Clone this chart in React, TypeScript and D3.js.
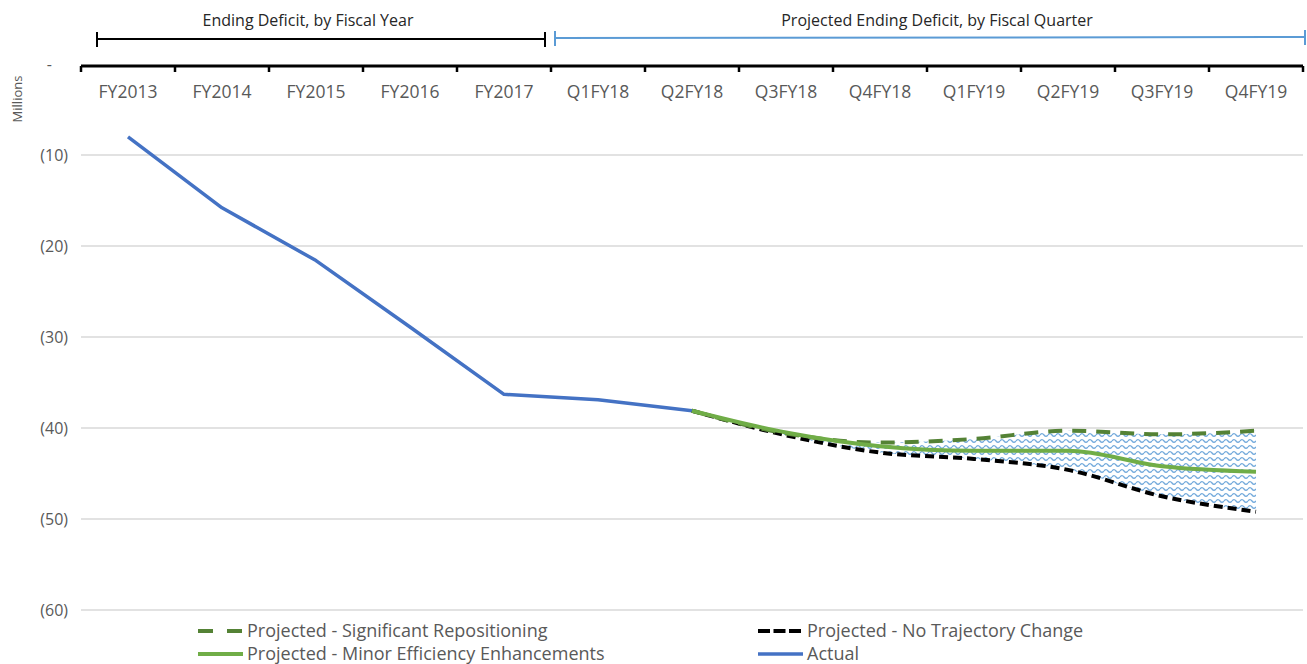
import React from "react";
import * as d3 from "d3";

const categories = ["FY2013","FY2014","FY2015","FY2016","FY2017","Q1FY18","Q2FY18","Q3FY18","Q4FY18","Q1FY19","Q2FY19","Q3FY19","Q4FY19"];
const actual: (number | null)[] = [-8.0, -15.8, -21.6, -28.9, -36.3, -36.9, -38.1, null, null, null, null, null, null];
const significant: (number | null)[] = [null, null, null, null, null, null, -38.1, -40.6, -41.6, -41.2, -40.3, -40.7, -40.3];
const noTrajectory: (number | null)[] = [null, null, null, null, null, null, -38.1, -40.8, -42.7, -43.4, -44.6, -47.5, -49.2];
const minorEff: (number | null)[] = [null, null, null, null, null, null, -38.1, -40.5, -42.0, -42.5, -42.5, -44.2, -44.8];
const yTicks = [0, -10, -20, -30, -40, -50, -60];
const yTickLabels = ["-", "(10)", "(20)", "(30)", "(40)", "(50)", "(60)"];
const legendItems = [
  { label: "Projected - Significant Repositioning", key: "sig" },
  { label: "Projected - No Trajectory Change", key: "no" },
  { label: "Projected - Minor Efficiency Enhancements", key: "minor" },
  { label: "Actual", key: "actual" },
];

const W = 1307, H = 664;
const FONT = "'Open Sans', sans-serif";
const TXT = "#595959";

export default function App() {
  const x = d3.scaleBand<string>().domain(categories).range([81, 1303]).paddingInner(0).paddingOuter(0);
  const y = d3.scaleLinear().domain([0, -60]).range([64, 610]);
  const cx = (i: number) => (x(categories[i]) as number) + x.bandwidth() / 2;

  const mk = (vals: (number | null)[], curve: d3.CurveFactory) =>
    d3.line<number | null>()
      .defined((d) => d !== null)
      .x((_, i) => cx(i))
      .y((d) => y(d as number))
      .curve(curve)(vals) as string;

  const idx = categories.map((_, i) => i).filter((i) => significant[i] !== null && noTrajectory[i] !== null);
  const area = d3.area<number>()
    .x((i) => cx(i))
    .y0((i) => y(noTrajectory[i] as number))
    .y1((i) => y(significant[i] as number))
    .curve(d3.curveMonotoneX)(idx) as string;

  const styles: Record<string, any> = {
    sig: { stroke: "#548235", dash: "14 10", width: 4 },
    no: { stroke: "#000000", dash: "9 5", width: 4 },
    minor: { stroke: "#70AD47", dash: undefined, width: 4 },
    actual: { stroke: "#4472C4", dash: undefined, width: 3.5 },
  };

  const bandEdges = categories.map((c) => x(c) as number).concat([1303]);

  return (
    <svg width={W} height={H} style={{ position: "absolute", left: 0, top: 0, background: "#fff" }}>
      <defs>
        <pattern id="wave" patternUnits="userSpaceOnUse" width="8" height="6">
          <path d="M0 3 Q2 0.4 4 3 T8 3" fill="none" stroke="#5B9BD5" strokeWidth="1.3" />
        </pattern>
      </defs>
      <rect x={0} y={0} width={W} height={H} fill="#fff" />

      {/* header brackets */}
      <g fontFamily={FONT} fontSize={16} fill="#262626">
        <text x={308} y={26} textAnchor="middle">Ending Deficit, by Fiscal Year</text>
        <text x={937} y={26} textAnchor="middle">Projected Ending Deficit, by Fiscal Quarter</text>
      </g>
      <g stroke="#000" strokeWidth={2}>
        <line x1={97} x2={545} y1={39} y2={39} />
        <line x1={97} x2={97} y1={32} y2={47} />
        <line x1={545} x2={545} y1={32} y2={47} />
      </g>
      <g stroke="#5B9BD5" strokeWidth={2}>
        <line x1={555} x2={1306} y1={38} y2={37} />
        <line x1={555} x2={555} y1={31} y2={46} />
        <line x1={1305} x2={1305} y1={30} y2={45} />
      </g>

      {/* gridlines */}
      {yTicks.filter((t) => t !== 0).map((t) => (
        <line key={t} x1={81} x2={1303} y1={y(t)} y2={y(t)} stroke="#D9D9D9" strokeWidth={1.3} />
      ))}

      {/* y labels */}
      <g fontFamily={FONT} fontSize={16} fill={TXT}>
        {yTicks.map((t, i) => (
          <text key={t} x={i === 0 ? 52 : 68} y={y(t) + 5.5} textAnchor="end">{yTickLabels[i]}</text>
        ))}
      </g>
      <text transform="translate(22,99) rotate(-90)" fontFamily={FONT} fontSize={13} fill={TXT} textAnchor="middle">Millions</text>

      {/* x axis at top */}
      <line x1={81} x2={1303} y1={66} y2={66} stroke="#000" strokeWidth={3} />
      {bandEdges.map((e, i) => (
        <line key={i} x1={e} x2={e} y1={66} y2={72} stroke="#000" strokeWidth={2.5} />
      ))}
      <g fontFamily={FONT} fontSize={17.5} fill={TXT}>
        {categories.map((c, i) => (
          <text key={c} x={cx(i)} y={98} textAnchor="middle">{c}</text>
        ))}
      </g>

      {/* filled range */}
      <path d={area} fill="url(#wave)" stroke="none" opacity={0.85} />

      {/* lines */}
      <path d={mk(actual, d3.curveLinear)} fill="none" stroke={styles.actual.stroke} strokeWidth={styles.actual.width} strokeLinejoin="round" />
      <path d={mk(noTrajectory, d3.curveMonotoneX)} fill="none" stroke={styles.no.stroke} strokeWidth={styles.no.width} strokeDasharray={styles.no.dash} />
      <path d={mk(significant, d3.curveMonotoneX)} fill="none" stroke={styles.sig.stroke} strokeWidth={styles.sig.width} strokeDasharray={styles.sig.dash} />
      <path d={mk(minorEff, d3.curveMonotoneX)} fill="none" stroke={styles.minor.stroke} strokeWidth={styles.minor.width} strokeLinejoin="round" />

      {/* legend */}
      <g fontFamily={FONT} fontSize={18} fill={TXT}>
        {legendItems.map((it, i) => {
          const col = i % 2, row = Math.floor(i / 2);
          const lx = col === 0 ? 198 : 758;
          const ly = 631 + row * 23;
          const s = styles[it.key];
          return (
            <g key={it.key}>
              <line x1={lx} x2={lx + 45} y1={ly} y2={ly} stroke={s.stroke} strokeWidth={s.width}
                strokeDasharray={it.key === "sig" ? "15 14" : it.key === "no" ? "12 3.5" : undefined} />
              <text x={lx + 49} y={ly + 6}>{it.label}</text>
            </g>
          );
        })}
      </g>
    </svg>
  );
}
